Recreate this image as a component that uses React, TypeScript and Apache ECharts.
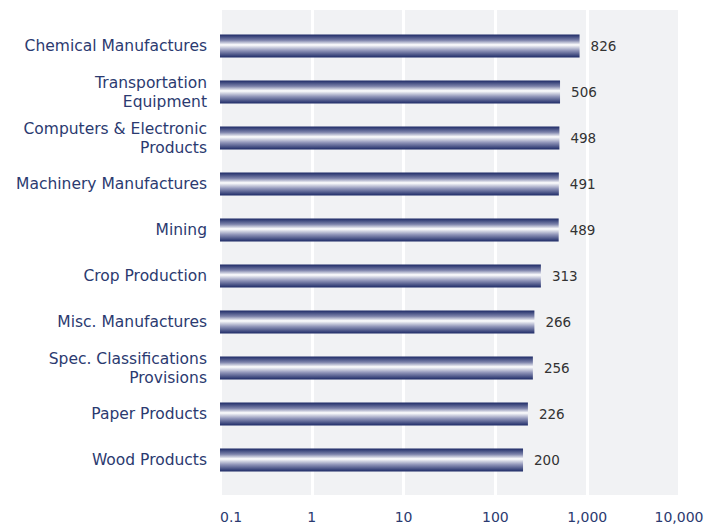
import React, { useEffect, useRef } from "react";
import * as echarts from "echarts";

const categories = [
  "Chemical Manufactures",
  "Transportation\nEquipment",
  "Computers & Electronic\nProducts",
  "Machinery Manufactures",
  "Mining",
  "Crop Production",
  "Misc. Manufactures",
  "Spec. Classifications\nProvisions",
  "Paper Products",
  "Wood Products",
];
const values = [826, 506, 498, 491, 489, 313, 266, 256, 226, 200];
const tickLabels: Record<string, string> = {
  "0.1": "0.1",
  "1": "1",
  "10": "10",
  "100": "100",
  "1000": "1,000",
  "10000": "10,000",
};
const axisMin = 0.1;
const axisMax = 10000;

const NAVY_TEXT = "#2b3a70";
const FONT = "'DejaVu Sans', 'Noto Sans', sans-serif";

export default function App() {
  const ref = useRef<HTMLDivElement>(null);
  useEffect(() => {
    if (!ref.current) return;
    const chart = echarts.init(ref.current, null, { renderer: "svg" });
    const barGradient = new echarts.graphic.LinearGradient(0, 0, 0, 1, [
      { offset: 0, color: "#1d2a66" },
      { offset: 0.25, color: "#7c82aa" },
      { offset: 0.45, color: "#ffffff" },
      { offset: 0.7, color: "#8f94b8" },
      { offset: 1, color: "#1d2a66" },
    ]);
    chart.setOption({
      animation: false,
      textStyle: { fontFamily: FONT },
      grid: [
        { left: 220, top: 10, width: 459, height: 485, show: true, backgroundColor: "#f1f2f4", borderWidth: 0 },
        { left: 220, top: 23, width: 459, height: 460 },
      ],
      xAxis: [
        {
          gridIndex: 0,
          type: "log",
          logBase: 10,
          min: axisMin,
          max: axisMax,
          axisLine: { show: false },
          axisTick: { show: false },
          splitLine: { show: true, lineStyle: { color: "#ffffff", width: 3 } },
          axisLabel: {
            color: NAVY_TEXT,
            fontSize: 14,
            fontFamily: FONT,
            margin: 15,
            alignMinLabel: "left",
            formatter: (v: number) => tickLabels[String(v)] ?? String(v),
          },
        },
        {
          gridIndex: 1,
          type: "log",
          logBase: 10,
          min: axisMin,
          max: axisMax,
          show: false,
        },
      ],
      yAxis: [
        { gridIndex: 0, type: "value", show: false },
        {
          gridIndex: 1,
          type: "category",
          inverse: true,
          data: categories,
          axisLine: { show: false },
          axisTick: { show: false },
          splitLine: { show: false },
          axisLabel: {
            color: NAVY_TEXT,
            fontSize: 15.5,
            fontFamily: FONT,
            margin: 13,
            lineHeight: 19,
            align: "right",
          },
        },
      ],
      series: [
        {
          type: "custom",
          xAxisIndex: 1,
          yAxisIndex: 1,
          data: values.map((v, i) => [v, i]),
          encode: { x: 0, y: 1 },
          renderItem: (params: any, api: any) => {
            const v = api.value(0);
            const idx = api.value(1);
            const start = api.coord([axisMin, idx]);
            const end = api.coord([v, idx]);
            const h = 23;
            return {
              type: "group",
              children: [
                {
                  type: "rect",
                  shape: { x: start[0], y: end[1] - h / 2, width: end[0] - start[0], height: h },
                  style: { fill: barGradient },
                },
                {
                  type: "text",
                  x: end[0] + 11,
                  y: end[1],
                  style: {
                    text: String(v),
                    fill: "#333333",
                    fontSize: 13.5,
                    fontFamily: FONT,
                    verticalAlign: "middle",
                    align: "left",
                  },
                },
              ],
            };
          },
        },
      ],
    });
    return () => chart.dispose();
  }, []);
  return (
    <div
      ref={ref}
      style={{ position: "absolute", left: 0, top: 0, width: 718, height: 527 }}
    />
  );
}
